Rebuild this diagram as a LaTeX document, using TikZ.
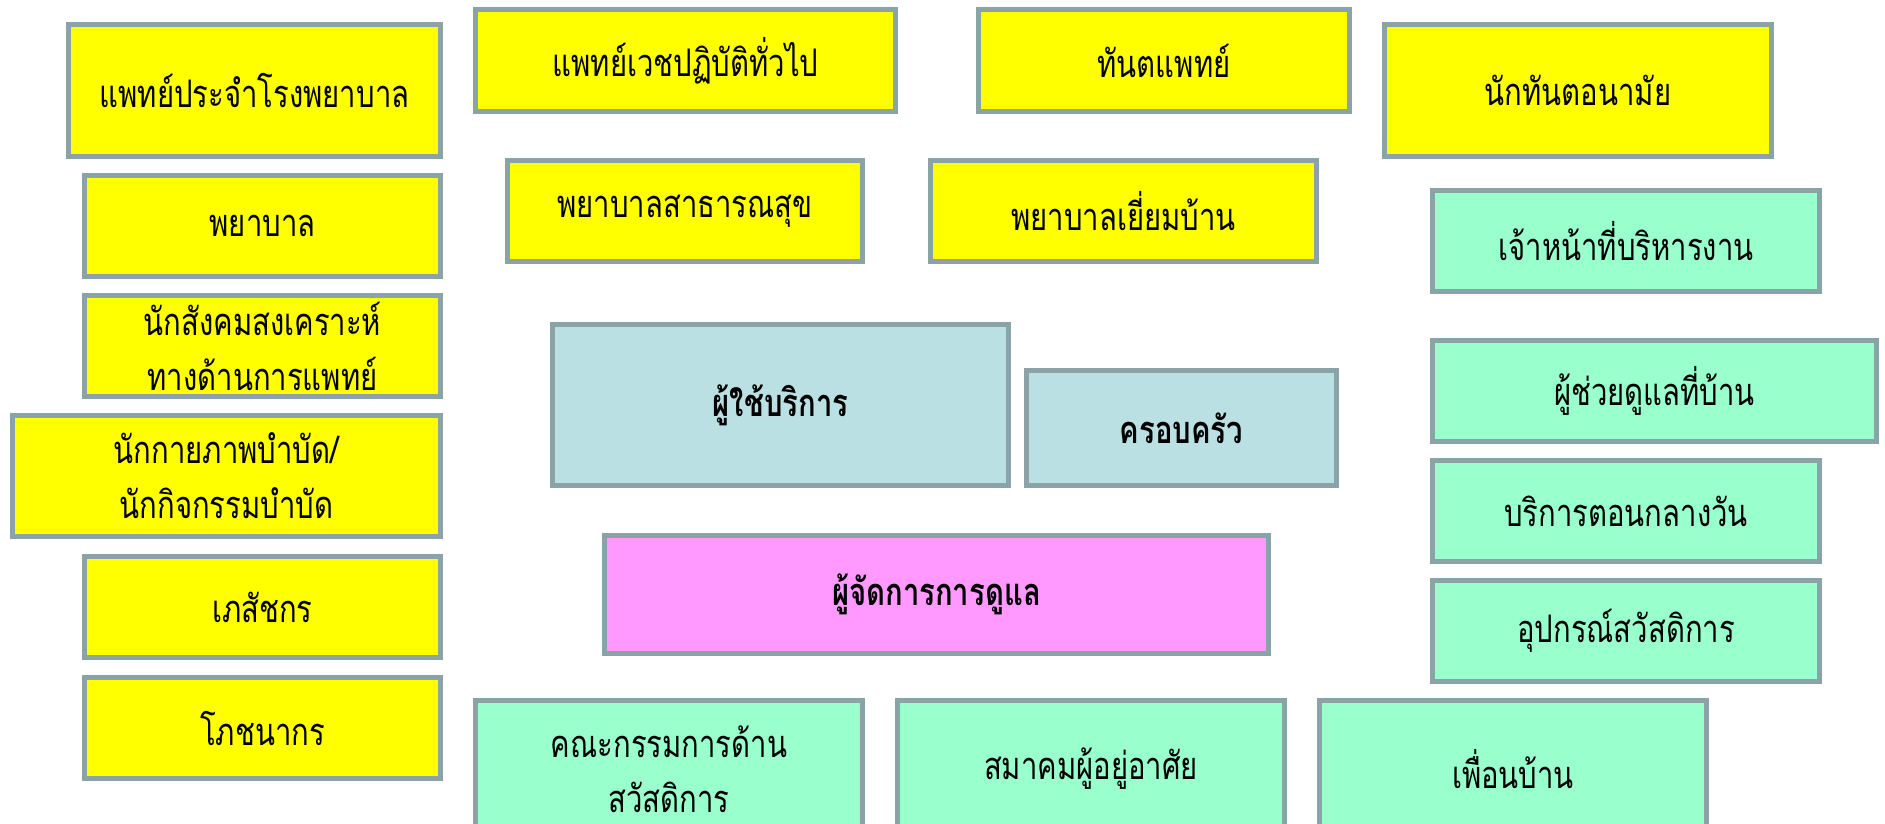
\documentclass[tikz,border=0pt]{standalone}
\usepackage{fontspec}
\newfontfamily\thaifont[Script=Thai,FakeStretch=0.77]{Loma}
\definecolor{edgegray}{HTML}{8AA3A6}
\definecolor{staffyellow}{HTML}{FFFF00}
\definecolor{aidgreen}{HTML}{99FFCC}
\definecolor{userblue}{HTML}{BAE0E3}
\definecolor{mgrpink}{HTML}{FF99FF}

\begin{document}
\begin{tikzpicture}[x=1pt,y=-1pt,
	box/.style={draw=edgegray, line width=5pt, rectangle, inner sep=0pt, align=center,
		font=\thaifont\fontsize{38}{55}\selectfont},
	staff/.style={box, fill=staffyellow},
	aid/.style={box, fill=aidgreen},
	core/.style={box, fill=userblue, font=\thaifont\bfseries\fontsize{38}{55}\selectfont},
	mgr/.style={box, fill=mgrpink, font=\thaifont\bfseries\fontsize{38}{55}\selectfont},
	wh/.style 2 args={minimum width=#1pt-5pt, minimum height=#2pt-5pt}]
	\clip (0,0) rectangle (1885,823);
	% yellow: health staff
	\node[staff, wh={377}{137}] (hosp) at (254.5,90.5) {แพทย์ประจำโรงพยาบาล};
	\node[staff, wh={425}{107}] (gp) at (685.5,60.5) {แพทย์เวชปฏิบัติทั่วไป};
	\node[staff, wh={376}{107}] (dent) at (1164,60.5) {ทันตแพทย์};
	\node[staff, wh={392}{137}] (hyg) at (1578,90.5) {นักทันตอนามัย};
	\node[staff, wh={361}{106}] (nurse) at (262.5,226) {พยาบาล};
	\node[staff, wh={360}{106}] (pubn) at (685,211) {พยาบาลสาธารณสุข};
	\node[staff, wh={391}{106}] (visn) at (1123.5,211) {พยาบาลเยี่ยมบ้าน};
	\node[staff, wh={361}{106}] (social) at (262.5,346) {นักสังคมสงเคราะห์\\ทางด้านการแพทย์};
	\node[staff, wh={433}{126}] (physio) at (226.5,476) {นักกายภาพบำบัด/\\นักกิจกรรมบำบัด};
	\node[staff, wh={361}{106}] (pharm) at (262.5,607) {เภสัชกร};
	\node[staff, wh={361}{106}] (diet) at (262.5,728) {โภชนากร};
	% green: support
	\node[aid, wh={392}{106}] (admin) at (1626,241) {เจ้าหน้าที่บริหารงาน};
	\node[aid, wh={449}{106}] (helper) at (1654.5,391) {ผู้ช่วยดูแลที่บ้าน};
	\node[aid, wh={392}{106}] (daycare) at (1626,511) {บริการตอนกลางวัน};
	\node[aid, wh={392}{106}] (equip) at (1626,631) {อุปกรณ์สวัสดิการ};
	\node[aid, wh={392}{142}] (board) at (669,769) {คณะกรรมการด้าน\\สวัสดิการ};
	\node[aid, wh={392}{142}] (assoc) at (1091,769) {สมาคมผู้อยู่อาศัย};
	\node[aid, wh={392}{142}] (neigh) at (1513,769) {เพื่อนบ้าน};
	% centre
	\node[core, wh={461}{166}] (user) at (780.5,405) {ผู้ใช้บริการ};
	\node[core, wh={315}{120}] (family) at (1181.5,428) {ครอบครัว};
	\node[mgr, wh={669}{123}] (manager) at (936.5,594.5) {ผู้จัดการการดูแล};
\end{tikzpicture}
\end{document}
